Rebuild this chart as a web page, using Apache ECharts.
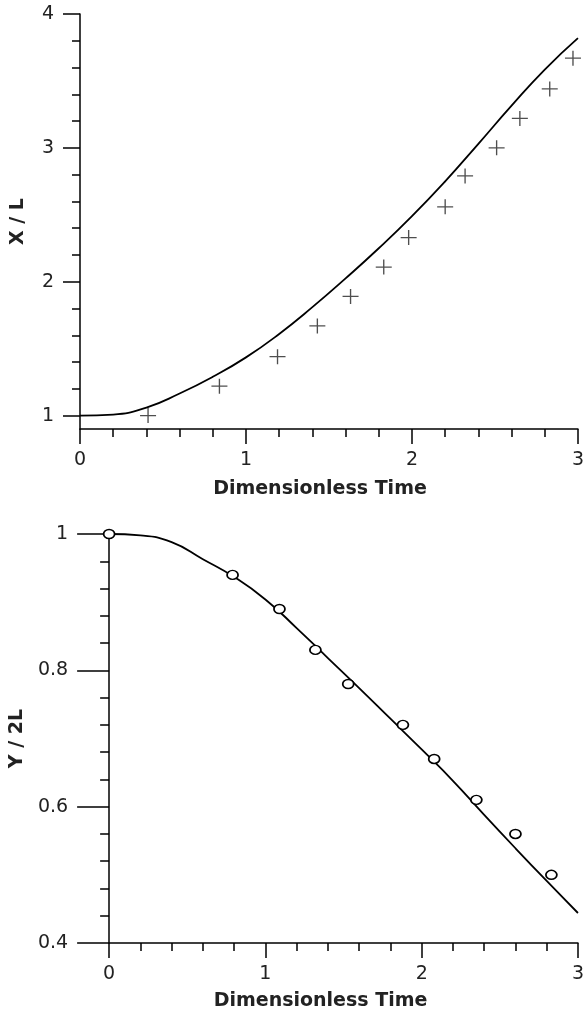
<!DOCTYPE html>
<html>
<head>
<meta charset="utf-8">
<script src="https://cdn.jsdelivr.net/npm/echarts@6/dist/echarts.min.js"></script>
<style>
html,body{margin:0;padding:0;background:#fff;}
#chart{width:587px;height:1013px;}
</style>
</head>
<body>
<div id="chart"></div>
<script>
// ---- data ----
const timeGrid = [0, 0.2, 0.4, 0.6, 0.8, 1.0, 1.2, 1.4, 1.6, 1.8, 2.0, 2.2, 2.4, 2.6, 2.8, 3.0];
const xlCurve  = [1.0, 1.008, 1.06, 1.165, 1.29, 1.435, 1.61, 1.81, 2.025, 2.25, 2.49, 2.75, 3.03, 3.315, 3.585, 3.82];
const xlTime   = [0.41, 0.84, 1.19, 1.43, 1.63, 1.83, 1.98, 2.20, 2.32, 2.51, 2.65, 2.83, 2.97];
const xlExp    = [1.0, 1.22, 1.44, 1.67, 1.89, 2.11, 2.33, 2.56, 2.79, 3.00, 3.22, 3.44, 3.67];

const yCurve   = [1.0, 0.998, 0.988, 0.963, 0.937, 0.904, 0.862, 0.818, 0.774, 0.729, 0.684, 0.638, 0.588, 0.539, 0.491, 0.444];
const yTime    = [0, 0.79, 1.09, 1.32, 1.53, 1.88, 2.08, 2.35, 2.60, 2.83];
const yExp     = [1.0, 0.94, 0.89, 0.83, 0.78, 0.72, 0.67, 0.61, 0.56, 0.50];

const topYMajor = [1, 2, 3, 4];
const topYMinor = [1.2, 1.4, 1.6, 1.8, 2.2, 2.4, 2.6, 2.8, 3.2, 3.4, 3.6, 3.8];

const xName = 'Dimensionless Time';
const topYName = 'X / L';
const botYName = 'Y / 2L';

// ---- chart ----
const FONT = 'DejaVu Sans';
const INK = '#000';
const TXT = '#222';
const line = {color: INK, width: 1.5};
const labelStyle = {fontFamily: FONT, fontSize: 19, color: TXT};
const nameStyle = {fontFamily: FONT, fontSize: 19, fontWeight: 'bold', color: TXT};

function zip(a, b) { return a.map((v, i) => [v, b[i]]); }

function timeAxis(gi, gap, pad) {
  return {
    gridIndex: gi, type: 'value', min: 0, max: 3, interval: 1,
    axisLine: {show: true, onZero: false, lineStyle: line},
    axisTick: {show: true, length: 15, lineStyle: line},
    minorTick: {show: true, splitNumber: 5, length: 8, lineStyle: line},
    splitLine: {show: false}, minorSplitLine: {show: false},
    axisLabel: Object.assign({margin: 22}, labelStyle),
    name: xName, nameLocation: 'middle', nameGap: gap,
    nameTextStyle: Object.assign({padding: pad}, nameStyle)
  };
}

const chart = echarts.init(document.getElementById('chart'), null, {renderer: 'canvas'});
chart.setOption({
  animation: false,
  backgroundColor: '#fff',
  grid: [
    {left: 80, top: 14, width: 501, height: 415},
    {left: 108, top: 534, width: 473, height: 409}
  ],
  xAxis: [
    timeAxis(0, 51, [0, 18, 0, 0]),
    timeAxis(1, 49, [0, 46, 0, 0])
  ],
  yAxis: [
    {
      gridIndex: 0, type: 'value', min: 0.9, max: 4, position: 'left',
      axisLine: {show: true, onZero: false, lineStyle: line},
      axisTick: {show: true, length: 17, lineStyle: line, customValues: topYMajor},
      axisLabel: Object.assign({margin: 26, customValues: topYMajor}, labelStyle),
      splitLine: {show: false},
      name: topYName, nameLocation: 'middle', nameGap: 52,
      nameTextStyle: nameStyle
    },
    {
      gridIndex: 0, type: 'value', min: 0.9, max: 4, position: 'left', offset: 0,
      axisLine: {show: false},
      axisTick: {show: true, length: 8, lineStyle: line, customValues: topYMinor},
      axisLabel: {show: false},
      splitLine: {show: false}
    },
    {
      gridIndex: 1, type: 'value', min: 0.4, max: 1, interval: 0.2,
      axisLine: {show: true, onZero: false, lineStyle: line},
      axisTick: {show: true, length: 32, lineStyle: line},
      minorTick: {show: true, splitNumber: 5, length: 9, lineStyle: line},
      axisLabel: Object.assign({margin: 41}, labelStyle),
      splitLine: {show: false}, minorSplitLine: {show: false},
      name: botYName, nameLocation: 'middle', nameGap: 80,
      nameTextStyle: nameStyle
    }
  ],
  series: [
    {
      type: 'line', xAxisIndex: 0, yAxisIndex: 0, data: zip(timeGrid, xlCurve),
      smooth: 0.5, showSymbol: false, lineStyle: {color: INK, width: 1.8}, z: 3
    },
    {
      type: 'scatter', xAxisIndex: 0, yAxisIndex: 0, data: zip(xlTime, xlExp),
      symbol: 'path://M0,8L16,8M8,0L8,16', symbolSize: [16, 15], clip: false,
      itemStyle: {color: 'none', borderColor: '#222', borderWidth: 1.3}, z: 2
    },
    {
      type: 'line', xAxisIndex: 1, yAxisIndex: 2, data: zip(timeGrid, yCurve),
      smooth: 0.5, showSymbol: false, lineStyle: {color: INK, width: 1.8}, z: 3
    },
    {
      type: 'scatter', xAxisIndex: 1, yAxisIndex: 2, data: zip(yTime, yExp),
      symbol: 'circle', symbolSize: [11, 9], clip: false,
      itemStyle: {color: '#fff', borderColor: INK, borderWidth: 1.6, opacity: 1}, z: 4
    }
  ]
});
</script>
</body>
</html>
